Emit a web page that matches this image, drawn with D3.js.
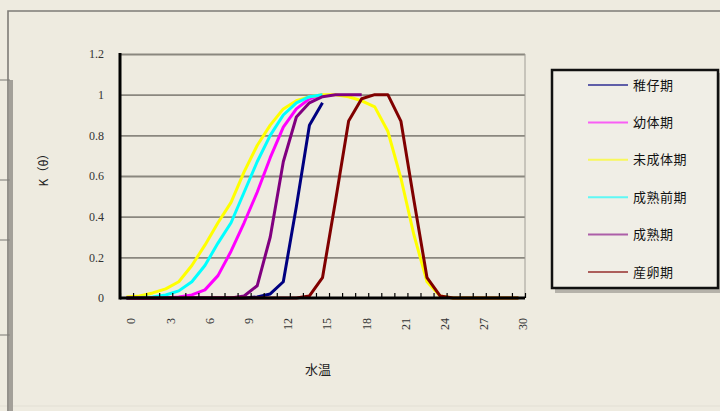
<!DOCTYPE html>
<html>
<head>
<meta charset="utf-8">
<script src="https://cdn.jsdelivr.net/npm/d3@7"></script>
<style>
  html, body { margin: 0; padding: 0; background: #EEEBE0; }
  svg { display: block; }
</style>
</head>
<body>
<svg id="chart" width="720" height="411"></svg>
<script>
// Water temperature categories (°C)
const temps = [0,1,2,3,4,5,6,7,8,9,10,11,12,13,14,15,16,17,18,19,20,21,22,23,24,25,26,27,28,29,30];
const xTickLabels = [0,3,6,9,12,15,18,21,24,27,30];
const yTickLabels = [0,0.2,0.4,0.6,0.8,1,1.2];

// K(θ) by life stage, one value per temperature (null = not given)
const larva     = [0,0,0,0,0,0,0,0,0,0,0.005,0.02,0.08,0.45,0.85,0.96,null,null,null,null,null,null,null,null,null,null,null,null,null,null,null];
const juvenile  = [0,0,0,0,0.005,0.015,0.04,0.11,0.23,0.37,0.52,0.69,0.84,0.93,0.98,1.0,null,null,null,null,null,null,null,null,null,null,null,null,null,null,null];
const immature  = [0.005,0.01,0.025,0.045,0.08,0.16,0.26,0.37,0.47,0.62,0.75,0.85,0.93,0.97,0.99,1.0,1.0,0.99,0.97,0.94,0.82,0.59,0.31,0.08,0.01,0,0,0,0,0,0];
const premature = [0,0.002,0.005,0.015,0.035,0.08,0.16,0.27,0.37,0.52,0.67,0.8,0.9,0.96,0.99,1.0,null,null,null,null,null,null,null,null,null,null,null,null,null,null,null];
const mature    = [0,0,0,0,0,0,0,0,0,0.01,0.06,0.3,0.67,0.89,0.96,0.99,1.0,1.0,1.0,null,null,null,null,null,null,null,null,null,null,null,null];
const spawning  = [0,0,0,0,0,0,0,0,0,0,0,0,0,0,0.01,0.1,0.48,0.87,0.98,1.0,1.0,0.87,0.48,0.1,0.01,0,0,0,0,0,0];

const seriesNames  = ["稚仔期","幼体期","未成体期","成熟前期","成熟期","産卵期"];
const seriesValues = [larva, juvenile, immature, premature, mature, spawning];
const seriesColors = ["#000080","#FF00FF","#FFFF00","#00FFFF","#800080","#800000"];

const svg = d3.select("#chart");
const W = 720, H = 411;

// background and sheet frame
svg.append("rect").attr("width", W).attr("height", H).attr("fill", "#EEEBE0");
svg.append("line").attr("x1", 0).attr("x2", W).attr("y1", 406).attr("y2", 406)
  .attr("stroke", "#E2DFD4").attr("stroke-width", 1);
svg.append("line").attr("x1", 11).attr("x2", 11).attr("y1", 80).attr("y2", H)
  .attr("stroke", "#A3A099").attr("stroke-width", 4);
[80, 180, 240, 335].forEach(yy => {
  svg.append("line").attr("x1", 0).attr("x2", 10).attr("y1", yy).attr("y2", yy)
    .attr("stroke", "#8C8A84").attr("stroke-width", 1.2);
});
svg.append("path").attr("d", `M8,${H} V11 H${W}`)
  .attr("fill", "none").attr("stroke", "#7E7C77").attr("stroke-width", 1.6);

// scales
const x = d3.scaleLinear().domain([-0.5, 30.5]).range([120, 525]);
const y = d3.scaleLinear().domain([0, 1.2]).range([298, 54]);

const plot = svg.append("g");

// horizontal gridlines
plot.append("g")
  .attr("transform", `translate(${x(-0.5)},0)`)
  .call(d3.axisLeft(y).tickValues(yTickLabels.filter(v => v > 0)).tickSize(-(x(30.5) - x(-0.5))).tickFormat(""))
  .call(g => g.select(".domain").remove())
  .call(g => g.selectAll("line").attr("stroke", "#8A877F").attr("stroke-width", 1.8));

// right edge of plot area
plot.append("line").attr("x1", x(30.5)).attr("x2", x(30.5)).attr("y1", y(1.2)).attr("y2", y(0))
  .attr("stroke", "#A09D96").attr("stroke-width", 1);

// y tick labels
plot.append("g")
  .attr("transform", `translate(${x(-0.5)},0)`)
  .call(d3.axisLeft(y).tickValues(yTickLabels).tickSize(0).tickPadding(16).tickFormat(d3.format("")))
  .call(g => g.select(".domain").remove())
  .call(g => g.selectAll("text")
    .attr("font-family", "'Liberation Serif', serif").attr("font-size", 12).attr("fill", "#333"));

// series lines
const line = d3.line()
  .defined(d => d[1] != null)
  .x(d => x(d[0]))
  .y(d => y(d[1]));

seriesValues.forEach((vals, i) => {
  plot.append("path")
    .datum(temps.map((t, j) => [t, vals[j]]))
    .attr("fill", "none")
    .attr("stroke", seriesColors[i])
    .attr("stroke-width", 3)
    .attr("stroke-linejoin", "round")
    .attr("d", line);
});

// category boundary ticks on the x axis
const boundaries = temps.map(t => t - 0.5).concat([30.5]);
plot.append("g")
  .attr("transform", `translate(0,${y(0)})`)
  .call(d3.axisTop(x).tickValues(boundaries).tickSize(5).tickFormat(""))
  .call(g => g.select(".domain").remove())
  .call(g => g.selectAll("line").attr("stroke", "#000").attr("stroke-width", 1.2));

// x tick labels, rotated
const xLab = plot.append("g")
  .attr("transform", `translate(0,${y(0)})`)
  .call(d3.axisBottom(x).tickValues(xTickLabels).tickSize(0).tickFormat(d3.format("")))
  .call(g => g.select(".domain").remove());
xLab.selectAll("text")
  .attr("font-family", "'Liberation Serif', serif").attr("font-size", 12).attr("fill", "#333")
  .attr("text-anchor", "end")
  .attr("transform", "translate(0,20) rotate(-90)")
  .attr("x", 0).attr("y", 0).attr("dy", "0.7em");

// axis lines
plot.append("line").attr("x1", x(-0.5)).attr("x2", x(-0.5)).attr("y1", y(1.2) - 1).attr("y2", y(0) + 1.5)
  .attr("stroke", "#000").attr("stroke-width", 3);
plot.append("line").attr("x1", x(-0.5)).attr("x2", x(30.5)).attr("y1", y(0)).attr("y2", y(0))
  .attr("stroke", "#000").attr("stroke-width", 3);

// axis titles
svg.append("text")
  .attr("transform", "translate(48,167) rotate(-90)")
  .attr("text-anchor", "middle")
  .attr("font-family", "'Noto Sans CJK JP', sans-serif").attr("font-size", 12).attr("fill", "#222")
  .text("K（θ）");
svg.append("text")
  .attr("x", 318).attr("y", 374)
  .attr("text-anchor", "middle")
  .attr("font-family", "'Noto Sans CJK JP', sans-serif").attr("font-size", 13).attr("fill", "#222")
  .text("水温");

// legend
const lg = svg.append("g");
lg.append("rect").attr("x", 555).attr("y", 73).attr("width", 166).attr("height", 220)
  .attr("fill", "#B5B2AA");
lg.append("rect").attr("x", 552).attr("y", 70).attr("width", 166).attr("height", 218)
  .attr("fill", "#F0EEE6").attr("stroke", "#111").attr("stroke-width", 2.5);
const rowY = d3.scalePoint().domain(seriesNames).range([85, 272]);
seriesNames.forEach((name, i) => {
  lg.append("line").attr("x1", 588).attr("x2", 628).attr("y1", rowY(name)).attr("y2", rowY(name))
    .attr("stroke", seriesColors[i]).attr("stroke-width", 2).attr("opacity", 0.6);
  lg.append("text").attr("x", 633).attr("y", rowY(name)).attr("dy", "0.36em")
    .attr("font-family", "'Noto Sans CJK JP', sans-serif").attr("font-size", 13)
    .attr("letter-spacing", 0.5).attr("fill", "#111")
    .text(name);
});
</script>
</body>
</html>
